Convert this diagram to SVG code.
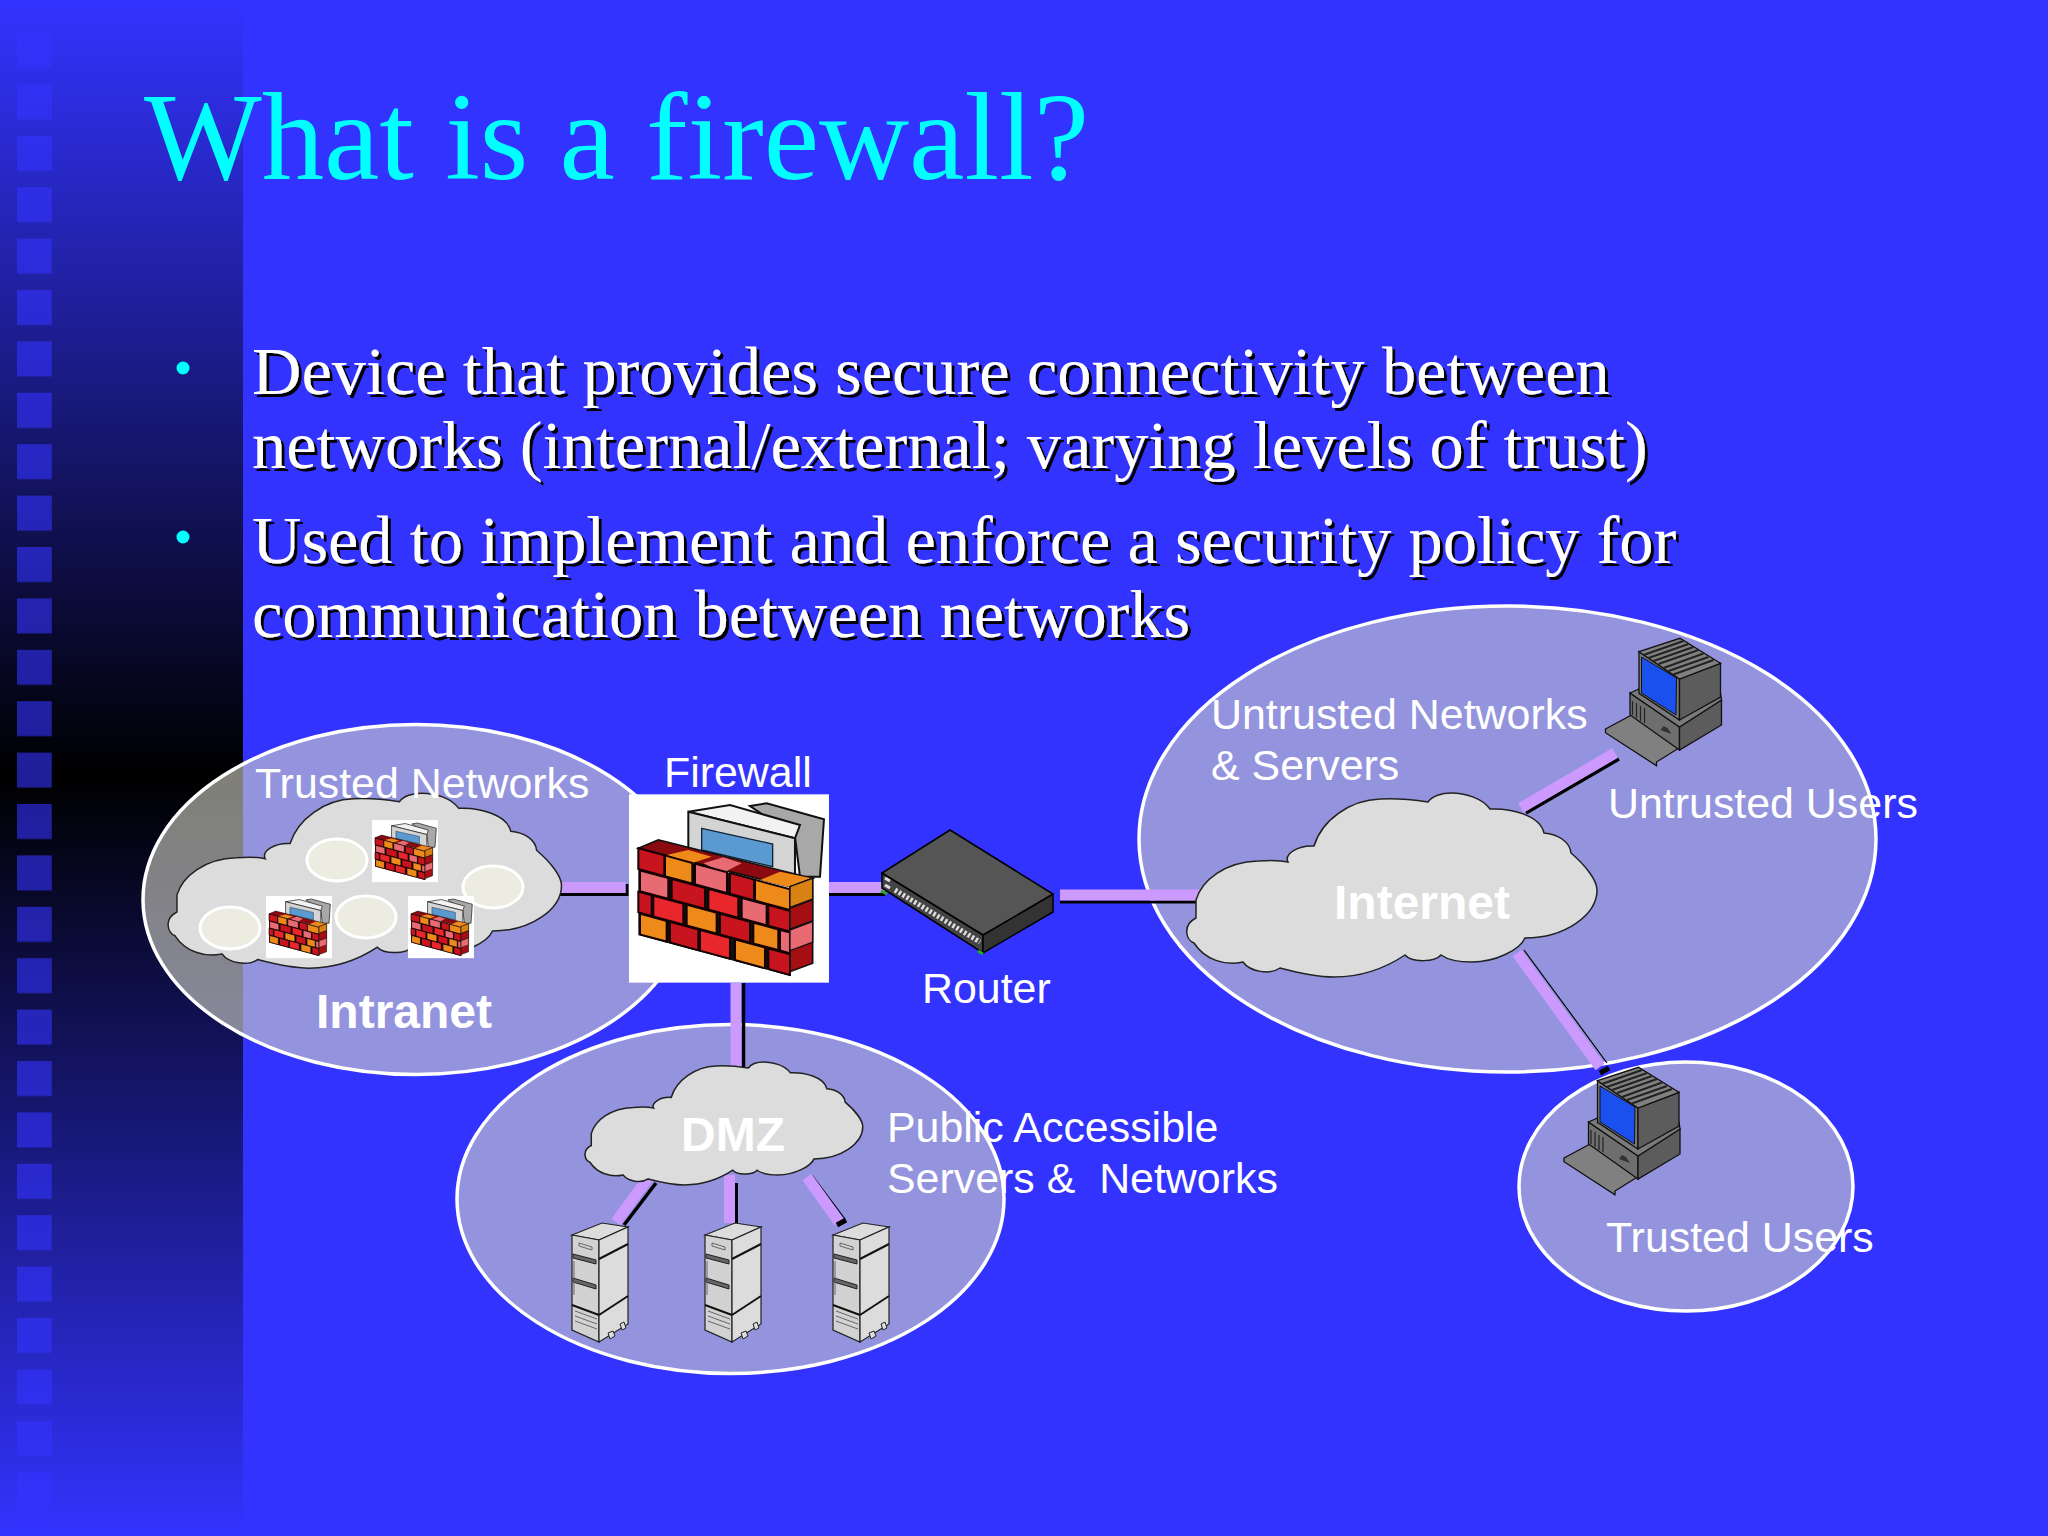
<svg xmlns="http://www.w3.org/2000/svg" width="2048" height="1536" viewBox="0 0 2048 1536">
<style>
.s{font-family:"Liberation Sans",Arial,sans-serif;font-size:42.9px;fill:#fff}
.b{font-family:"Liberation Sans",Arial,sans-serif;font-size:48px;font-weight:bold;fill:#fff}
.body{font-family:"Liberation Serif","Times New Roman",serif;font-size:68.4px;fill:#fff;filter:url(#sh)}
.title{font-family:"Liberation Serif","Times New Roman",serif;font-size:124.7px;fill:#0ff}
.zone{fill:#d6d6c8;fill-opacity:.6;stroke:#fff;stroke-width:3.5}
.cloud{fill:#dcdcdc;stroke:#222;stroke-width:1.5;vector-effect:non-scaling-stroke}
.li{stroke:#cc99ff;fill:none}
.bk{stroke:#000;fill:none}
.dot{fill:#ecece0;stroke:#fff;stroke-width:3}
.br{stroke:#140000;stroke-width:6}
.R{fill:#c8141e}.O{fill:#ee8a1a}.P{fill:#e86a72}.D{fill:#8a0a10}.E{fill:#e8262c}
.g1{fill:#dcdcdc;stroke:#222;stroke-width:1.2}
.g2{fill:#d2d2d2;stroke:#222;stroke-width:1.2}
.pl{stroke:#111;stroke-width:1.3}
</style>
<defs>
<linearGradient id="pg" x1="0" y1="0" x2="0" y2="1"><stop offset="0" stop-color="#3333ff"/><stop offset=".505" stop-color="#000"/><stop offset="1" stop-color="#3333ff"/></linearGradient>
<pattern id="sq" patternUnits="userSpaceOnUse" x="17" y="33" width="51.4" height="51.4"><rect width="35" height="35" fill="#3333ff"/></pattern>
<filter id="sh" x="-2%" y="-10%" width="104%" height="125%"><feDropShadow dx="3" dy="3" stdDeviation=".4" flood-color="#000"/></filter>
<path id="cl" class="cloud" d="M1196,900C1202,880 1225,862 1258,861C1270,860 1280,860 1288,862C1284,854 1298,845 1314,846C1322,820 1350,800 1380,799C1398,798 1415,800 1428,802C1432,796 1442,793 1451,793C1465,793 1482,798 1490,809C1510,808 1540,815 1544,833C1558,834 1570,842 1571,853C1585,865 1597,880 1597,890C1597,915 1565,938 1525,938C1520,950 1495,962 1472,962C1460,962 1448,960 1441,955C1435,962 1412,963 1405,955C1390,965 1365,977 1334,977C1315,977 1295,972 1280,968C1270,975 1250,972 1243,962C1225,966 1205,960 1194,943C1186,940 1182,925 1196,918Z"/>
<g id="fwi">
<rect x="27" y="43" width="600" height="565" fill="#fff"/>
<path d="M390,78L440,70L612,118L600,290L540,290L525,170Z" fill="#a8a8a8" stroke="#111" stroke-width="6"/>
<path d="M205,95L330,75L540,135L525,175Z" fill="#f2f2f2" stroke="#111" stroke-width="6"/>
<path d="M205,95L525,175L525,300L205,230Z" fill="#d4d4d4" stroke="#111" stroke-width="6"/>
<path d="M245,145L458,192L458,260L245,210Z" fill="#5a9ad0" stroke="#123" stroke-width="4"/>
<path d="M55,205L115,180L578,295L510,320Z" fill="#8a0a10" stroke="#111" stroke-width="5"/>
<path d="M140,225L205,210L275,230L215,250Z" class="O"/><path d="M250,250L310,232L365,250L310,278Z" class="P"/><path d="M420,300L480,275L575,295L510,322Z" class="O"/>
<g transform="matrix(1 .27 0 1 55 205)">
<rect width="455" height="260" fill="#111"/>
<rect class="br R" x="0" y="0" width="78" height="62"/><rect class="br O" x="80" y="0" width="82" height="62"/><rect class="br P" x="170" y="0" width="96" height="62"/><rect class="br R" x="275" y="0" width="72" height="62"/><rect class="br O" x="350" y="0" width="105" height="62"/>
<rect class="br P" x="5" y="65" width="85" height="62"/><rect class="br R" x="100" y="65" width="100" height="62"/><rect class="br E" x="210" y="65" width="90" height="62"/><rect class="br P" x="310" y="65" width="75" height="62"/><rect class="br R" x="390" y="65" width="65" height="62"/>
<rect class="br R" x="0" y="130" width="40" height="62"/><rect class="br E" x="45" y="130" width="90" height="62"/><rect class="br O" x="145" y="130" width="90" height="62"/><rect class="br R" x="245" y="130" width="90" height="62"/><rect class="br O" x="345" y="130" width="75" height="62"/><rect class="br P" x="425" y="130" width="30" height="62"/>
<rect class="br O" x="5" y="195" width="80" height="62"/><rect class="br R" x="95" y="195" width="85" height="62"/><rect class="br E" x="185" y="195" width="90" height="62"/><rect class="br O" x="290" y="195" width="90" height="62"/><rect class="br R" x="390" y="195" width="65" height="62"/>
</g>
<g transform="matrix(1 -.37 0 1 510 320)">
<rect width="68" height="255" fill="#a50f14" stroke="#111" stroke-width="5"/>
<rect x="0" y="0" width="68" height="62" fill="#d98214" stroke="#111" stroke-width="4"/><rect x="0" y="65" width="68" height="62" fill="#a50f14" stroke="#111" stroke-width="4"/><rect x="0" y="130" width="68" height="62" fill="#e86a72" stroke="#111" stroke-width="4"/>
</g>
</g>
<g id="srv">
<path class="g1" d="M0,12L30,0L56,4L27,17Z"/>
<path class="g2" d="M0,12L27,17L27,119L0,107Z"/>
<path class="g1" d="M27,17L56,4L56,101L27,119Z"/>
<path d="M27,36L56,21M27,92L56,73M0,82L27,92" stroke="#111" stroke-width="2" fill="none"/>
<path d="M1,31L24,37L24,41L1,35ZM1,55L24,62L24,66L1,59Z" fill="#666" stroke="#222"/>
<path d="M7,20L20,24L20,27L7,23ZM2,38V72M3,88L25,96M3,93L25,101M3,98L25,106" stroke="#666" stroke-width="1" fill="none"/>
<path d="M36,110L41,108L43,113L38,116ZM48,101L52,99L54,105L50,107Z" fill="#ddd" stroke="#222"/>
</g>
<g id="pc">
<path class="pl" d="M0,91L28,76L75,109L51,124L51,127.7L0,94.7Z" fill="#808080"/>
<path class="pl" d="M24.5,55L74,89L74,112L24.5,77Z" fill="#6e6e6e"/>
<path class="pl" d="M74,89L116,62L116,87L74,112Z" fill="#5c5c5c"/>
<path class="pl" d="M24.5,55L33.5,51L74,78L115,55L116,62L74,89Z" fill="#7a7a7a"/>
<path class="pl" d="M33.5,13.7L74,41L74,82L33.5,55.3Z" fill="#777"/>
<path d="M36,19L71,40L70.5,77L36,55Z" fill="#1a50ee" stroke="#111"/>
<path class="pl" d="M74,41L115,25.3L115,59L74,82Z" fill="#5c5c5c"/>
<path class="pl" d="M33.5,13.7L74.5,.3L115,25.3L74,41Z" fill="#808080"/>
<path d="M38,17L78,3M43,20L83,6M48,23L88,9M53,26L93,12M58,30L98,15.5M63,33L103,19M68,36.500L108,22" stroke="#222" stroke-width="2" fill="none"/>
<path d="M27,63V77M31,65V80M35,68V83M39,70V85" stroke="#222" stroke-width="1.2" fill="none"/>
<path d="M55,92L66,96L62,90L58,88Z" fill="#333"/>
</g>
</defs>
<rect id="bg" width="2048" height="1536" fill="#3333ff"/>
<rect id="panel" width="243" height="1536" fill="url(#pg)"/>
<rect id="squares" x="17" y="33" width="35" height="1503" fill="url(#sq)" opacity=".6"/>
<text class="title" x="144" y="179">What is a firewall?</text>
<g id="bullets">
<circle cx="183" cy="368" r="6.5" fill="#0ff"/>
<circle cx="183" cy="537" r="6.5" fill="#0ff"/>
<text class="body" x="252" y="394">Device that provides secure connectivity between</text>
<text class="body" x="252" y="468">networks (internal/external; varying levels of trust)</text>
<text class="body" x="252" y="563">Used to implement and enforce a security policy for</text>
<text class="body" x="252" y="637">communication between networks</text>
</g>
<g id="zones">
<ellipse class="zone" cx="416" cy="899.5" rx="273" ry="175"/>
<ellipse class="zone" cx="730.5" cy="1199" rx="273.5" ry="174.5"/>
<ellipse class="zone" cx="1507.5" cy="839" rx="368.5" ry="233"/>
<ellipse class="zone" cx="1686" cy="1186.5" rx="167" ry="124.5"/>
</g>
<g id="connectors">
<path class="bk" stroke-width="3" d="M550,894.5H627M627,884V896"/>
<path class="li" stroke-width="11" d="M550,887.500H625.500"/>
<path class="bk" stroke-width="3" d="M829,894.5H885"/>
<path class="li" stroke-width="11" d="M829,887.5H885"/>
<path class="bk" stroke-width="3" d="M1060,902H1200"/>
<path class="li" stroke-width="11" d="M1060,895H1200"/>
<path class="bk" stroke-width="3.5" d="M743.5,983V1075"/>
<path class="li" stroke-width="11" d="M736,983V1075"/>
<path class="bk" stroke-width="3.5" d="M1526,813L1619,759"/>
<path class="li" stroke-width="11" d="M1521,808L1615,753"/>
<path class="bk" stroke-width="1.2" d="M1524,950L1607,1063"/>
<path class="bk" stroke-width="5" d="M1600,1073L1609,1068"/>
<path class="li" stroke-width="11" d="M1517,953L1600,1067"/>
<path class="bk" stroke-width="3.5" d="M656,1183L624,1225"/>
<path class="li" stroke-width="11" d="M648,1178L616,1222"/>
<path class="li" stroke-width="11" d="M729.5,1175V1223"/>
<path class="bk" stroke-width="3" d="M736.5,1183V1223"/>
<path class="bk" stroke-width="1.2" d="M812,1175L845,1219"/>
<path class="li" stroke-width="11" d="M807,1177L839,1222"/>
<path class="bk" stroke-width="5" d="M837,1225L846,1220"/>
</g>
<g id="intranet">
<use href="#cl" transform="translate(-970,39) scale(.959 .951)"/>
<ellipse class="dot" cx="337" cy="860" rx="30" ry="21"/>
<ellipse class="dot" cx="493" cy="887" rx="30" ry="21"/>
<ellipse class="dot" cx="366" cy="917" rx="30" ry="21"/>
<ellipse class="dot" cx="230" cy="928" rx="30" ry="21"/>
<use href="#fwi" transform="translate(369,815.3) scale(.11)"/>
<use href="#fwi" transform="translate(263,891.3) scale(.11)"/>
<use href="#fwi" transform="translate(405,891.3) scale(.11)"/>
<text class="s" x="255" y="798">Trusted Networks</text>
<text class="b" x="316" y="1028">Intranet</text>
</g>
<g id="firewall">
<use href="#fwi" transform="translate(620,780) scale(.3333)"/>
<text class="s" x="664" y="787">Firewall</text>
</g>
<g id="router">
<path d="M882,873L983,935L983,953L882,888Z" fill="#444" stroke="#000" stroke-width="1.5"/>
<path d="M983,935L1053,894L1053,912L983,953Z" fill="#333" stroke="#000" stroke-width="1.5"/>
<path d="M950,830L1053,894L983,935L882,873Z" fill="#555" stroke="#000" stroke-width="1.5"/>
<path d="M895,890L980,942" stroke="#ddd" stroke-width="5" stroke-dasharray="2.5 2" fill="none"/>
<path d="M885,878L890,881M885,885L890,888" stroke="#ddd" stroke-width="3" fill="none"/>
<path d="M881,891L887,894M978,951L983,954" stroke="#2a2" stroke-width="3" fill="none"/>
<text class="s" x="922" y="1003">Router</text>
</g>
<g id="internet">
<use href="#cl"/>
<text class="b" x="1334" y="919">Internet</text>
<text class="s" x="1211" y="729">Untrusted Networks</text>
<text class="s" x="1211" y="780">&amp; Servers</text>
</g>
<g id="untrusted-users">
<use href="#pc" transform="translate(1605.5,638)"/>
<text class="s" x="1608" y="818">Untrusted Users</text>
</g>
<g id="trusted-users">
<use href="#pc" transform="translate(1564,1067)"/>
<text class="s" x="1606" y="1252">Trusted Users</text>
</g>
<g id="dmz">
<use href="#cl" transform="translate(-218.4,532.3) scale(.677 .668)"/>
<text class="b" x="681" y="1151">DMZ</text>
<use href="#srv" transform="translate(572,1223)"/>
<use href="#srv" transform="translate(705,1223)"/>
<use href="#srv" transform="translate(833,1223)"/>
<text class="s" x="887" y="1142">Public Accessible</text>
<text class="s" x="887" y="1193" xml:space="preserve">Servers &amp;  Networks</text>
</g>
</svg>
